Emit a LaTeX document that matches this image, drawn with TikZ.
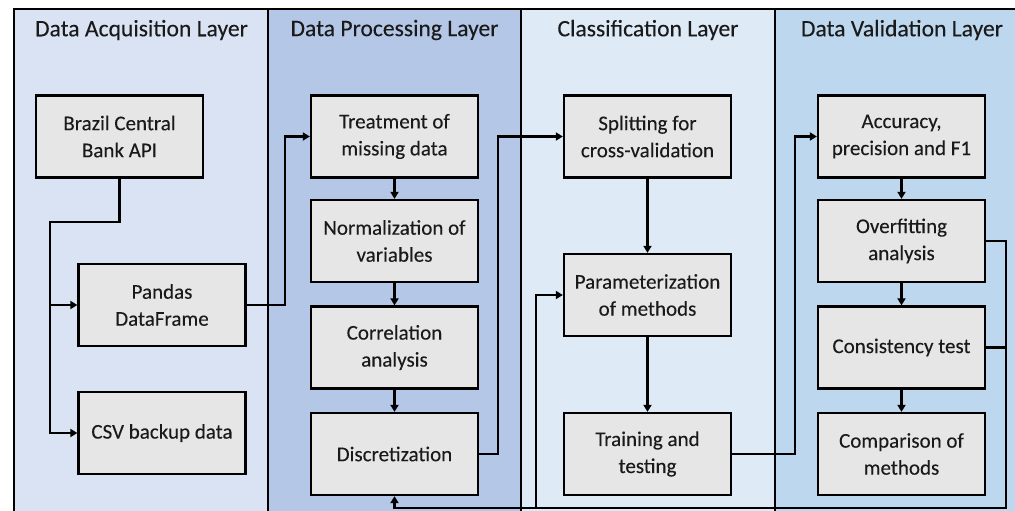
\documentclass[tikz,border=0pt]{standalone}
\usepackage{fontspec}
\setmainfont{Carlito}[FakeBold=0.15]
\usetikzlibrary{arrows.meta}
\definecolor{laneA}{HTML}{DAE3F3}
\definecolor{laneB}{HTML}{B4C7E7}
\definecolor{laneC}{HTML}{DEEBF7}
\definecolor{laneD}{HTML}{BDD7EE}
\definecolor{boxfill}{HTML}{E7E6E6}
\definecolor{txt}{HTML}{1A1A1A}
\begin{document}
\begin{tikzpicture}[x=1pt,y=-1pt,
  box/.style={draw=black, line width=2.3pt, fill=boxfill, minimum width=167pt, minimum height=82pt,
    inner sep=0pt, align=center, text=txt, font=\fontsize{21}{27}\selectfont},
  lanetitle/.style={text=txt, font=\fontsize{23.6}{27}\selectfont, inner sep=0pt},
  conn/.style={draw=black, line width=2.2pt},
  arr/.style={conn, -{Triangle[length=7pt,width=8pt]}}]
\useasboundingbox (0,0) rectangle (1015,511);
% lanes
\fill[laneA] (14,9) rectangle (268,511);
\fill[laneB] (268,9) rectangle (521,511);
\fill[laneC] (521,9) rectangle (775,511);
\fill[laneD] (775,9) rectangle (1015,511);
\foreach \xx in {268,521,775} \draw[line width=1.8pt] (\xx,9) -- (\xx,511);
\draw[line width=2.8pt] (14,511) -- (14,9) -- (1015,9);
% titles
\node[lanetitle] (t1) at (141.5,30) {Data Acquisition Layer};
\node[lanetitle] (t2) at (394.5,30) {Data Processing Layer};
\node[lanetitle] (t3) at (648,30) {Classification Layer};
\node[lanetitle] (t4) at (902,30) {Data Validation Layer};
% boxes
\node[box] (api) at (119.5,136.5) {Brazil Central\\Bank API};
\node[box] (pandas) at (162,305) {Pandas\\DataFrame};
\node[box] (csv) at (162,433) {CSV backup data};
\node[box] (treat) at (394.5,136.5) {Treatment of\\missing data};
\node[box] (norm) at (394.5,241) {Normalization of\\variables};
\node[box] (corr) at (394.5,347.5) {Correlation\\analysis};
\node[box] (disc) at (394.5,454) {Discretization};
\node[box] (split) at (647.5,136.5) {Splitting for\\cross-validation};
\node[box] (param) at (647.5,295) {Parameterization\\of methods};
\node[box] (train) at (647.5,454) {Training and\\testing};
\node[box] (acc) at (901.5,136.5) {Accuracy,\\precision and F1};
\node[box] (over) at (901.5,241) {Overfitting\\analysis};
\node[box] (cons) at (901.5,347.5) {Consistency test};
\node[box] (comp) at (901.5,454) {Comparison of\\methods};
% connectors
\coordinate (c1) at (50,222);
\draw[arr] (api.south) |- (c1) |- (pandas.west);
\draw[arr] (c1) |- (csv.west);
\draw[arr] (pandas.east) -- ++(38,0) |- (treat.west);
\draw[arr] (treat) -- (norm);
\draw[arr] (norm) -- (corr);
\draw[arr] (corr) -- (disc);
\draw[arr] (disc.east) -- ++(19,0) |- (split.west);
\draw[arr] (split) -- (param);
\draw[arr] (param) -- (train);
\draw[arr] (train.east) -- ++(63,0) |- (acc.west);
\draw[arr] (acc) -- (over);
\draw[arr] (over) -- (cons);
\draw[arr] (cons) -- (comp);
\coordinate (fbR) at (1006,508);
\coordinate (fbB) at (536,508);
\draw[arr] (over.east) -| (fbR) -| (disc.south);
\draw[conn] (cons.east) -- (cons.east -| fbR);
\draw[arr] (fbB) |- (param.west);
\end{tikzpicture}
\end{document}
